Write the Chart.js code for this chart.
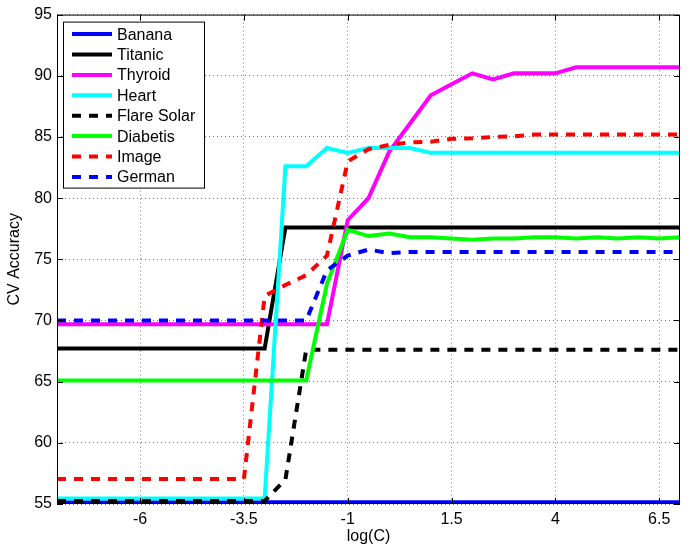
<!DOCTYPE html>
<html>
<head>
<meta charset="utf-8">
<script src="https://cdn.jsdelivr.net/npm/chart.js@4/dist/chart.umd.min.js"></script>
<style>body{margin:0;background:#fff}</style>
</head>
<body>
<canvas id="cv" width="689" height="545"></canvas>
<script>
var logC = [-8, -7.5, -7, -6.5, -6, -5.5, -5, -4.5, -4, -3.5, -3, -2.5, -2, -1.5, -1, -0.5,
  0, 0.5, 1, 1.5, 2, 2.5, 3, 3.5, 4, 4.5, 5, 5.5, 6, 6.5, 7];
var xTicks = [-6, -3.5, -1, 1.5, 4, 6.5];

var banana = [55.15, 55.15, 55.15, 55.15, 55.15, 55.15, 55.15, 55.15, 55.15, 55.15, 55.15, 55.15, 55.15, 55.15, 55.15, 55.15,
  55.15, 55.15, 55.15, 55.15, 55.15, 55.15, 55.15, 55.15, 55.15, 55.15, 55.15, 55.15, 55.15, 55.15, 55.15];
var titanic = [67.7, 67.7, 67.7, 67.7, 67.7, 67.7, 67.7, 67.7, 67.7, 67.7, 67.7, 77.6, 77.6, 77.6, 77.6, 77.6,
  77.6, 77.6, 77.6, 77.6, 77.6, 77.6, 77.6, 77.6, 77.6, 77.6, 77.6, 77.6, 77.6, 77.6, 77.6];
var thyroid = [69.7, 69.7, 69.7, 69.7, 69.7, 69.7, 69.7, 69.7, 69.7, 69.7, 69.7, 69.7, 69.7, 69.7, 78.2, 80.0,
  83.8, 86.1, 88.4, 89.3, 90.2, 89.7, 90.2, 90.2, 90.2, 90.7, 90.7, 90.7, 90.7, 90.7, 90.7];
var heart = [55.45, 55.45, 55.45, 55.45, 55.45, 55.45, 55.45, 55.45, 55.45, 55.45, 55.45, 82.6, 82.6, 84.1, 83.7, 84.1,
  84.1, 84.1, 83.7, 83.7, 83.7, 83.7, 83.7, 83.7, 83.7, 83.7, 83.7, 83.7, 83.7, 83.7, 83.7];
var flareSolar = [55.25, 55.25, 55.25, 55.25, 55.25, 55.25, 55.25, 55.25, 55.25, 55.25, 55.25, 57.0, 67.6, 67.6, 67.6, 67.6,
  67.6, 67.6, 67.6, 67.6, 67.6, 67.6, 67.6, 67.6, 67.6, 67.6, 67.6, 67.6, 67.6, 67.6, 67.6];
var diabetis = [65.1, 65.1, 65.1, 65.1, 65.1, 65.1, 65.1, 65.1, 65.1, 65.1, 65.1, 65.1, 65.1, 73.0, 77.4, 76.9,
  77.1, 76.8, 76.8, 76.7, 76.6, 76.7, 76.7, 76.8, 76.8, 76.7, 76.8, 76.7, 76.8, 76.7, 76.8];
var image = [57.05, 57.05, 57.05, 57.05, 57.05, 57.05, 57.05, 57.05, 57.05, 57.05, 72.0, 72.9, 73.7, 75.3, 83.0, 84.0,
  84.35, 84.55, 84.6, 84.85, 84.9, 85.0, 85.05, 85.2, 85.2, 85.2, 85.2, 85.2, 85.2, 85.2, 85.2];
var german = [70.0, 70.0, 70.0, 70.0, 70.0, 70.0, 70.0, 70.0, 70.0, 70.0, 70.0, 70.0, 70.0, 74.1, 75.3, 75.8,
  75.5, 75.6, 75.6, 75.6, 75.6, 75.6, 75.6, 75.6, 75.6, 75.6, 75.6, 75.6, 75.6, 75.6, 75.6];

var names = ["Banana", "Titanic", "Thyroid", "Heart", "Flare Solar", "Diabetis", "Image", "German"];
var series = [banana, titanic, thyroid, heart, flareSolar, diabetis, image, german];
var colors = ["#0000ff", "#000000", "#ff00ff", "#00ffff", "#000000", "#00ff00", "#ff0000", "#0000ff"];
var dashed = [false, false, false, false, true, false, true, true];

var FONT = "'Liberation Sans', Arial, Helvetica, sans-serif";
Chart.defaults.font.family = FONT;
Chart.defaults.color = "#000";

// box round the plot, inward ticks, and the boxed legend (matlab look)
var framePlugin = {
  id: "frame",
  afterDatasetsDraw: function (chart) {
    var ctx = chart.ctx, a = chart.chartArea;
    var xs = chart.scales.x, ys = chart.scales.y;
    ctx.save();
    ctx.strokeStyle = "#000";
    ctx.lineWidth = 1;
    ctx.setLineDash([]);
    ctx.strokeRect(a.left + 0.5, a.top + 0.5, a.width - 1, a.height - 1);
    ctx.beginPath();
    xs.ticks.forEach(function (t) {
      var px = Math.round(xs.getPixelForValue(t.value)) + 0.5;
      ctx.moveTo(px, a.bottom); ctx.lineTo(px, a.bottom - 6);
      ctx.moveTo(px, a.top); ctx.lineTo(px, a.top + 6);
    });
    ys.ticks.forEach(function (t) {
      var py = Math.round(ys.getPixelForValue(t.value)) + 0.5;
      ctx.moveTo(a.left, py); ctx.lineTo(a.left + 6, py);
      ctx.moveTo(a.right, py); ctx.lineTo(a.right - 6, py);
    });
    ctx.stroke();

    var lx = a.left + 6, ly = a.top + 7;
    ctx.fillStyle = "#fff";
    ctx.fillRect(lx, ly, 141, 166);
    ctx.strokeRect(lx + 0.5, ly + 0.5, 141, 166);
    ctx.font = "16px " + FONT;
    ctx.textBaseline = "middle";
    chart.data.datasets.forEach(function (ds, i) {
      var y = ly + 12.5 + i * 20.4;
      ctx.setLineDash(ds.borderDash || []);
      ctx.strokeStyle = ds.borderColor;
      ctx.lineWidth = 4;
      ctx.beginPath();
      ctx.moveTo(lx + 9, y);
      ctx.lineTo(lx + 49, y);
      ctx.stroke();
      ctx.setLineDash([]);
      ctx.fillStyle = "#000";
      ctx.fillText(ds.label, lx + 54, y + 1);
    });
    ctx.restore();
  }
};

var datasets = names.map(function (name, i) {
  return {
    label: name,
    data: logC.map(function (x, j) { return { x: x, y: series[i][j] }; }),
    borderColor: colors[i],
    backgroundColor: colors[i],
    borderWidth: 4,
    borderDash: dashed[i] ? [9, 8] : [],
    pointRadius: 0,
    tension: 0,
    order: names.length - i
  };
});

new Chart("cv", {
  type: "line",
  data: { datasets: datasets },
  plugins: [framePlugin],
  options: {
    responsive: false,
    animation: false,
    layout: { padding: { top: 13, right: 9, left: 0, bottom: 0 } },
    plugins: {
      legend: { display: false },
      tooltip: { enabled: false }
    },
    scales: {
      x: {
        type: "linear",
        min: -8,
        max: 7,
        afterBuildTicks: function (scale) {
          scale.ticks = xTicks.map(function (v) { return { value: v }; });
        },
        afterFit: function (scale) { scale.height = 41; },
        ticks: { font: { size: 16 }, padding: 6, maxRotation: 0, autoSkip: false },
        grid: { color: "rgba(0,0,0,0.55)", lineWidth: 1, drawTicks: false },
        border: { display: false, dash: [1, 3] },
        title: { display: true, text: "log(C)", font: { size: 16, lineHeight: 1 }, padding: { top: 0, bottom: 0 } }
      },
      y: {
        min: 55,
        max: 95,
        afterFit: function (scale) { scale.width = 57; },
        ticks: { stepSize: 5, font: { size: 16 }, padding: 5 },
        grid: { color: "rgba(0,0,0,0.55)", lineWidth: 1, drawTicks: false },
        border: { display: false, dash: [1, 3] },
        title: { display: true, text: "CV Accuracy", font: { size: 16, lineHeight: 1 }, padding: { top: 7, bottom: 0 } }
      }
    }
  }
});
</script>
</body>
</html>
